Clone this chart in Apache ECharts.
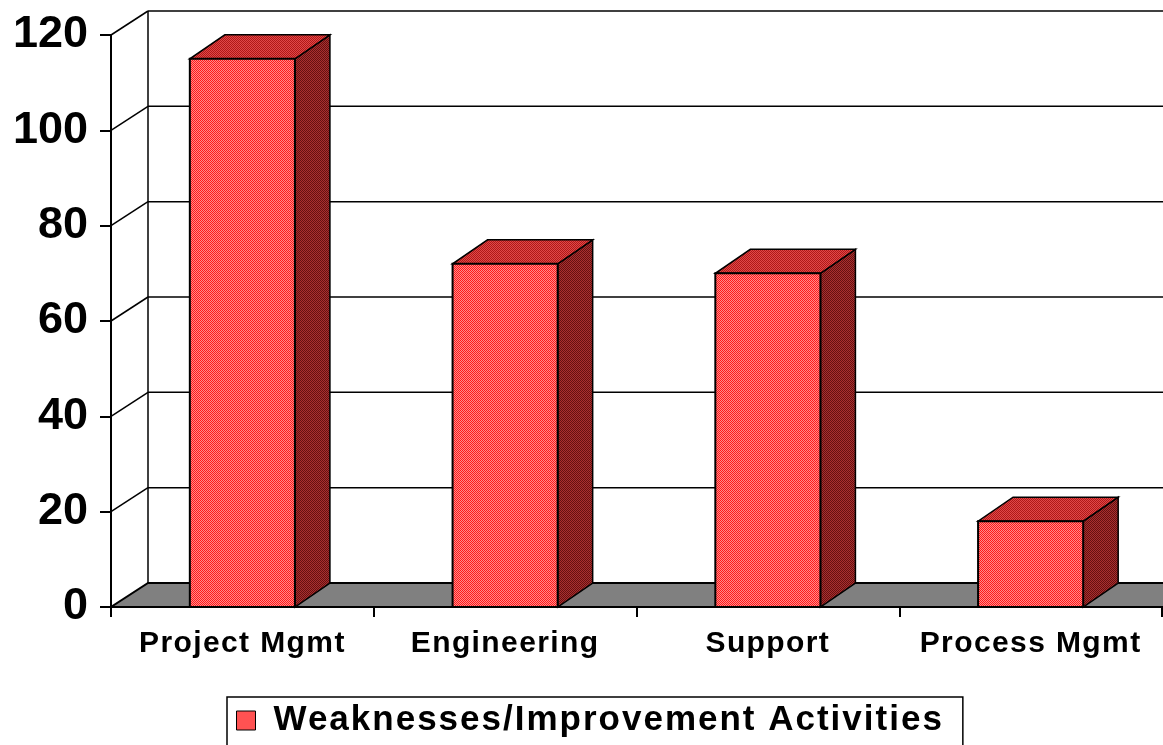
<!DOCTYPE html>
<html>
<head>
<meta charset="utf-8">
<script src="https://cdn.jsdelivr.net/npm/echarts@6/dist/echarts.min.js"></script>
<style>
html,body{margin:0;padding:0;background:#fff;}
#chart{width:1163px;height:745px;}
</style>
</head>
<body>
<div id="chart"></div>
<script>
// ---- data ----
const categories = ['Project Mgmt', 'Engineering', 'Support', 'Process Mgmt'];
const values = [115, 72, 70, 18];
const yTicks = [0, 20, 40, 60, 80, 100, 120];
const seriesName = 'Weaknesses/Improvement Activities';

// ---- 3D look constants ----
const WALL_DX = 37, BAR_DX = 35, DEPTH_DY = -24;
const FONT = '"Liberation Sans", Arial, sans-serif';

// letter spacing for the wide-tracked labels (keyed by font size)
const SPACING = { 30: '1.4px', 35: '2px' };
const origFill = CanvasRenderingContext2D.prototype.fillText;
CanvasRenderingContext2D.prototype.fillText = function (t, x, y, mw) {
  const m = /(\d+(?:\.\d+)?)px/.exec(this.font);
  const s = m ? Math.round(+m[1]) : 0;
  if ('letterSpacing' in this) this.letterSpacing = SPACING[s] || '0px';
  return mw === undefined ? origFill.call(this, t, x, y) : origFill.call(this, t, x, y, mw);
};

function dither(a, b) {
  const c = document.createElement('canvas');
  c.width = 2; c.height = 2;
  const g = c.getContext('2d');
  g.fillStyle = a; g.fillRect(0, 0, 2, 2);
  g.fillStyle = b; g.fillRect(0, 0, 1, 1); g.fillRect(1, 1, 1, 1);
  return { image: c, repeat: 'repeat' };
}
const frontFill = dither('#ff8a8a', '#ff1a1a');
const topFill = dither('#e04848', '#b01818');
const sideFill = dither('#a83030', '#661010');

const chart = echarts.init(document.getElementById('chart'), null, { renderer: 'canvas' });

const option = {
  animation: false,
  backgroundColor: '#ffffff',
  grid: { left: 111, right: 1, top: 35, bottom: 138 },
  legend: {
    data: [seriesName],
    left: 227, top: 697,
    padding: [6, 85, 30, 9],
    itemWidth: 19, itemHeight: 19,
    icon: 'rect',
    borderColor: '#000', borderWidth: 1.5,
    backgroundColor: '#fff',
    itemStyle: { color: frontFill, borderColor: '#000', borderWidth: 1 },
    textStyle: { fontSize: 35, fontWeight: 'bold', fontFamily: FONT, color: '#000', padding: [0, 0, 0, 13] }
  },
  xAxis: {
    type: 'category',
    data: categories,
    z: 10,
    axisLine: { show: true, lineStyle: { color: '#000', width: 2 } },
    axisTick: { show: true, length: 10, lineStyle: { color: '#000', width: 2 } },
    axisLabel: { interval: 0, margin: 22, fontSize: 30, fontWeight: 'bold', fontFamily: FONT, color: '#000' },
    splitLine: { show: false }
  },
  yAxis: {
    type: 'value',
    min: 0, max: 120, interval: 20,
    z: 10,
    axisLine: { show: true, lineStyle: { color: '#000', width: 2 } },
    axisTick: { show: true, length: 11, lineStyle: { color: '#000', width: 2 } },
    axisLabel: { margin: 23, fontSize: 45, fontWeight: 'bold', fontFamily: FONT, color: '#000' },
    splitLine: { show: false }
  },
  series: [
    {
      name: 'walls',
      type: 'custom',
      z: 1,
      silent: true,
      data: yTicks.map(v => [0, v]),
      renderItem: function (params, api) {
        const v = api.value(1);
        const p = api.coord([0, v]);
        const band = api.size([1, 0])[0];
        const x0 = p[0] - band / 2;
        const xR = x0 + band * categories.length + WALL_DX + 50;
        const y = p[1];
        const children = [];
        const ls = { stroke: '#000', lineWidth: 1.5, fill: null };
        if (v === yTicks[0]) {
          children.push({
            type: 'polygon',
            shape: { points: [[x0, y], [xR, y], [xR, y + DEPTH_DY], [x0 + WALL_DX, y + DEPTH_DY]] },
            style: { fill: '#808080', stroke: '#000', lineWidth: 2 }
          });
          const yTop = api.coord([0, yTicks[yTicks.length - 1]])[1];
          children.push({
            type: 'line',
            shape: { x1: x0 + WALL_DX, y1: y + DEPTH_DY, x2: x0 + WALL_DX, y2: yTop + DEPTH_DY },
            style: ls
          });
        } else {
          children.push({
            type: 'line',
            shape: { x1: x0, y1: y, x2: x0 + WALL_DX, y2: y + DEPTH_DY },
            style: ls
          });
          children.push({
            type: 'line',
            shape: { x1: x0 + WALL_DX, y1: y + DEPTH_DY, x2: xR, y2: y + DEPTH_DY },
            style: ls
          });
        }
        return { type: 'group', children: children };
      }
    },
    {
      name: seriesName,
      type: 'custom',
      z: 2,
      itemStyle: { color: frontFill, borderColor: '#000', borderWidth: 1 },
      data: values.map((v, i) => [i, v]),
      renderItem: function (params, api) {
        const i = api.value(0), v = api.value(1);
        const base = api.coord([i, 0]);
        const top = api.coord([i, v]);
        const w = api.size([1, 0])[0] * 0.4;
        const xl = base[0] - w / 2, xr = base[0] + w / 2;
        const yb = base[1], yt = top[1];
        return {
          type: 'group',
          children: [
            {
              type: 'polygon',
              shape: { points: [[xr, yt], [xr + BAR_DX, yt + DEPTH_DY], [xr + BAR_DX, yb + DEPTH_DY], [xr, yb]] },
              style: { fill: sideFill, stroke: '#000', lineWidth: 1.5, lineJoin: 'miter' }
            },
            {
              type: 'polygon',
              shape: { points: [[xl, yt], [xr, yt], [xr + BAR_DX, yt + DEPTH_DY], [xl + BAR_DX, yt + DEPTH_DY]] },
              style: { fill: topFill, stroke: '#000', lineWidth: 1.5, lineJoin: 'miter' }
            },
            {
              type: 'rect',
              shape: { x: xl, y: yt, width: w, height: yb - yt },
              style: { fill: frontFill, stroke: '#000', lineWidth: 2 }
            }
          ]
        };
      }
    }
  ]
};
chart.setOption(option);
</script>
</body>
</html>
